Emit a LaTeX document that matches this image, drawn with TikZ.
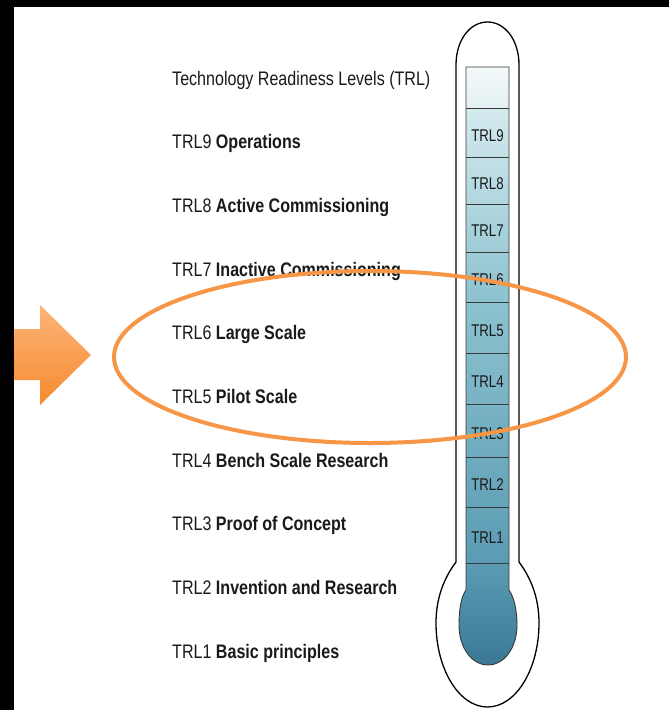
\documentclass[tikz,border=0pt]{standalone}
\usepackage{fontspec}
\setmainfont{Liberation Sans}[FakeStretch=0.82]
\newfontfamily\narrowfont{Liberation Sans}[FakeStretch=0.78]
\definecolor{thT}{HTML}{F4F9FA}
\definecolor{th0}{HTML}{E3F1F3}
\definecolor{th9}{HTML}{D4EAEE}
\definecolor{th5}{HTML}{8CC2CF}
\definecolor{th1}{HTML}{5B9BB3}
\definecolor{thB}{HTML}{3B7896}
\definecolor{orng}{HTML}{F79646}
\definecolor{arrT}{HTML}{FCB47A}
\definecolor{arrB}{HTML}{F78B2E}
\definecolor{txt}{HTML}{1A1A1A}
\definecolor{gridc}{HTML}{3A3A3A}
\pgfdeclareverticalshading{thermo}{100bp}{color(0bp)=(thB); color(25bp)=(thB); color(33.5bp)=(th1); color(55.4bp)=(th5); color(71.5bp)=(th9); color(71.65bp)=(th0); color(75bp)=(thT); color(100bp)=(thT)}
\begin{document}
\begin{tikzpicture}[x=1pt,y=-1pt,
  lab/.style={anchor=base west, inner sep=0pt, text=txt, font=\fontsize{19.6}{22}\selectfont},
  tlab/.style={anchor=base, inner sep=0pt, text=txt, font=\narrowfont\fontsize{17}{19}\selectfont},
  boxline/.style={draw=gridc, line width=0.9pt},
  glass/.style={draw=black, line width=1.3pt, fill=white},
  ring/.style={draw=orng, line width=4pt}]
\useasboundingbox (0,0) rectangle (669,710);
\fill[white] (0,0) rectangle (669,710);
% orange arrow
\shade[top color=arrT, bottom color=arrB] (0,329) -- (40,329) -- (40,305) -- (91,355) -- (40,405) -- (40,380) -- (0,380) -- cycle;
% black frame edges
\fill[black] (0,0) rectangle (14,710);
\fill[black] (0,0) rectangle (669,7);
% thermometer glass
\path[glass] (456,562) -- (456,65) .. controls (456,40) and (470,22) .. (487.5,22)
  .. controls (505,22) and (519,40) .. (519,65) -- (519,562)
  .. controls (531,578) and (539,598) .. (539,623)
  .. controls (539,669) and (516,707) .. (487.5,707)
  .. controls (459,707) and (436,669) .. (436,623)
  .. controls (436,598) and (444,578) .. (456,562) -- cycle;
% liquid column
\path[shading=thermo, draw=gridc, line width=0.9pt] (466,67) -- (466,590)
  .. controls (461,597) and (459,610) .. (459,625)
  .. controls (459,648) and (472,665) .. (488,665)
  .. controls (504,665) and (517,648) .. (517,625)
  .. controls (517,610) and (514,597) .. (509,590) -- (509,67) -- cycle;
\foreach \yy in {108,157,204,252,302,353,404,457,507,563}
  \draw[boxline] (466,\yy) -- (509,\yy);
% labels in the column
\foreach \n/\yy in {9/141,8/189,7/236.5,6/285.5,5/336,4/387,3/439,2/490.5,1/543.5}
  \node[tlab] (t\n) at (487.5,\yy) {TRL\n};
% left labels
\node[lab] (l0) at (172,85) {Technology Readiness Levels (TRL)};
\node[lab] (l9) at (172,148.5) {TRL9 \textbf{Operations}};
\node[lab] (l8) at (172,212) {TRL8 \textbf{Active Commissioning}};
\node[lab] (l7) at (172,276) {TRL7 \textbf{Inactive Commissioning}};
\node[lab] (l6) at (172,339.5) {TRL6 \textbf{Large Scale}};
\node[lab] (l5) at (172,403) {TRL5 \textbf{Pilot Scale}};
\node[lab] (l4) at (172,467) {TRL4 \textbf{Bench Scale Research}};
\node[lab] (l3) at (172,530.5) {TRL3 \textbf{Proof of Concept}};
\node[lab] (l2) at (172,594) {TRL2 \textbf{Invention and Research}};
\node[lab] (l1) at (172,658) {TRL1 \textbf{Basic principles}};
% highlight ellipse
\draw[ring] (370,357) ellipse [x radius=256, y radius=86];
\end{tikzpicture}
\end{document}
